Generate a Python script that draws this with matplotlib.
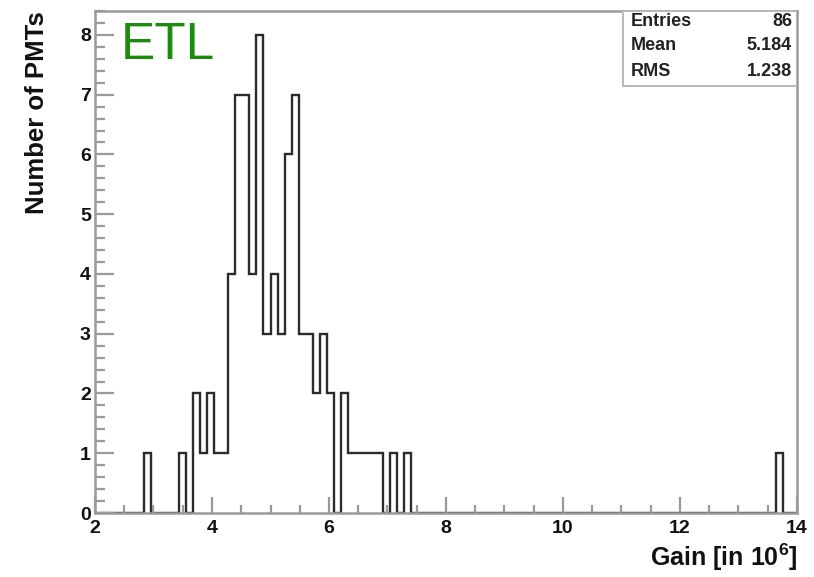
import numpy as np
import matplotlib
matplotlib.use('Agg')
from matplotlib import pyplot as plt
from matplotlib.ticker import MultipleLocator
from matplotlib.patches import Rectangle

# histogram: 100 bins between 2 and 14 (gain in 10^6)
x_lo, x_hi, n_bins = 2.0, 14.0, 100
counts = [0, 0, 0, 0, 0, 0, 0, 1, 0, 0,
          0, 0, 1, 0, 2, 1, 2, 1, 1, 4,
          7, 7, 4, 8, 3, 4, 3, 6, 7, 3,
          3, 2, 3, 2, 0, 2, 1, 1, 1, 1,
          1, 0, 1, 0, 1, 0, 0, 0, 0, 0,
          0, 0, 0, 0, 0, 0, 0, 0, 0, 0,
          0, 0, 0, 0, 0, 0, 0, 0, 0, 0,
          0, 0, 0, 0, 0, 0, 0, 0, 0, 0,
          0, 0, 0, 0, 0, 0, 0, 0, 0, 0,
          0, 0, 0, 0, 0, 0, 0, 1, 0, 0]
stat_names = ['Entries', 'Mean', 'RMS']
stat_values = ['86', '5.184', '1.238']

plt.rcParams['font.family'] = ['Liberation Sans', 'DejaVu Sans']
plt.rcParams['font.weight'] = 'bold'
plt.rcParams['mathtext.fontset'] = 'custom'
plt.rcParams['mathtext.rm'] = 'Liberation Sans:bold'
plt.rcParams['mathtext.bf'] = 'Liberation Sans:bold'

fig = plt.figure(figsize=(8.14, 5.77), dpi=100)
ax = fig.add_axes([95/814, 64/577, 702/814, 502/577])

edges = np.linspace(x_lo, x_hi, n_bins + 1)
ax.stairs(counts, edges, baseline=0, color='#2b2b2b', lw=1.7)

ax.set_xlim(2, 14)
ax.set_ylim(0, 8.4)

frame_col = '#9a9a9a'
for s in ax.spines.values():
    s.set_color(frame_col)
    s.set_linewidth(1.8)

ax.xaxis.set_major_locator(MultipleLocator(2))
ax.xaxis.set_minor_locator(MultipleLocator(0.5))
ax.yaxis.set_major_locator(MultipleLocator(1))
ax.yaxis.set_minor_locator(MultipleLocator(0.2))
ax.tick_params(axis='both', which='both', direction='in', color=frame_col,
               width=1.6, labelsize=14, labelcolor='#111111')
ax.tick_params(axis='x', which='major', length=11.5, pad=5)
ax.tick_params(axis='x', which='minor', length=5.8)
ax.tick_params(axis='y', which='major', length=14, pad=3)
ax.tick_params(axis='y', which='minor', length=7)
ax.tick_params(top=False, right=False)

ax.set_xlabel(r'Gain [in 10$^{\mathbf{6}}$]', fontsize=18, fontweight='bold',
              loc='right', labelpad=3, color='#111111')
ax.set_ylabel('Number of PMTs', fontsize=18.5, fontweight='bold',
              loc='top', labelpad=22, color='#111111')

ax.text(0.036, 0.98, 'ETL', transform=ax.transAxes, fontsize=37,
        fontweight='normal', color='#1c8c0c', va='top', ha='left')

# stats box
box_x0 = (623 - 95) / 702
box_y0 = (513 - 86) / 502
ax.add_patch(Rectangle((box_x0, box_y0), 1 - box_x0, 1 - box_y0,
                       transform=ax.transAxes, facecolor='white',
                       edgecolor='#bbbbbb', lw=1.5, zorder=5))
row_y = [21, 46, 71]
for name, val, py in zip(stat_names, stat_values, row_y):
    yy = (513 - py) / 502
    ax.text((631 - 95) / 702, yy, name, transform=ax.transAxes, fontsize=13,
            color='#222222', va='center', ha='left', zorder=6)
    ax.text((792 - 95) / 702, yy, val, transform=ax.transAxes, fontsize=13,
            color='#222222', va='center', ha='right', zorder=6)

plt.savefig('out.png', dpi=100)
